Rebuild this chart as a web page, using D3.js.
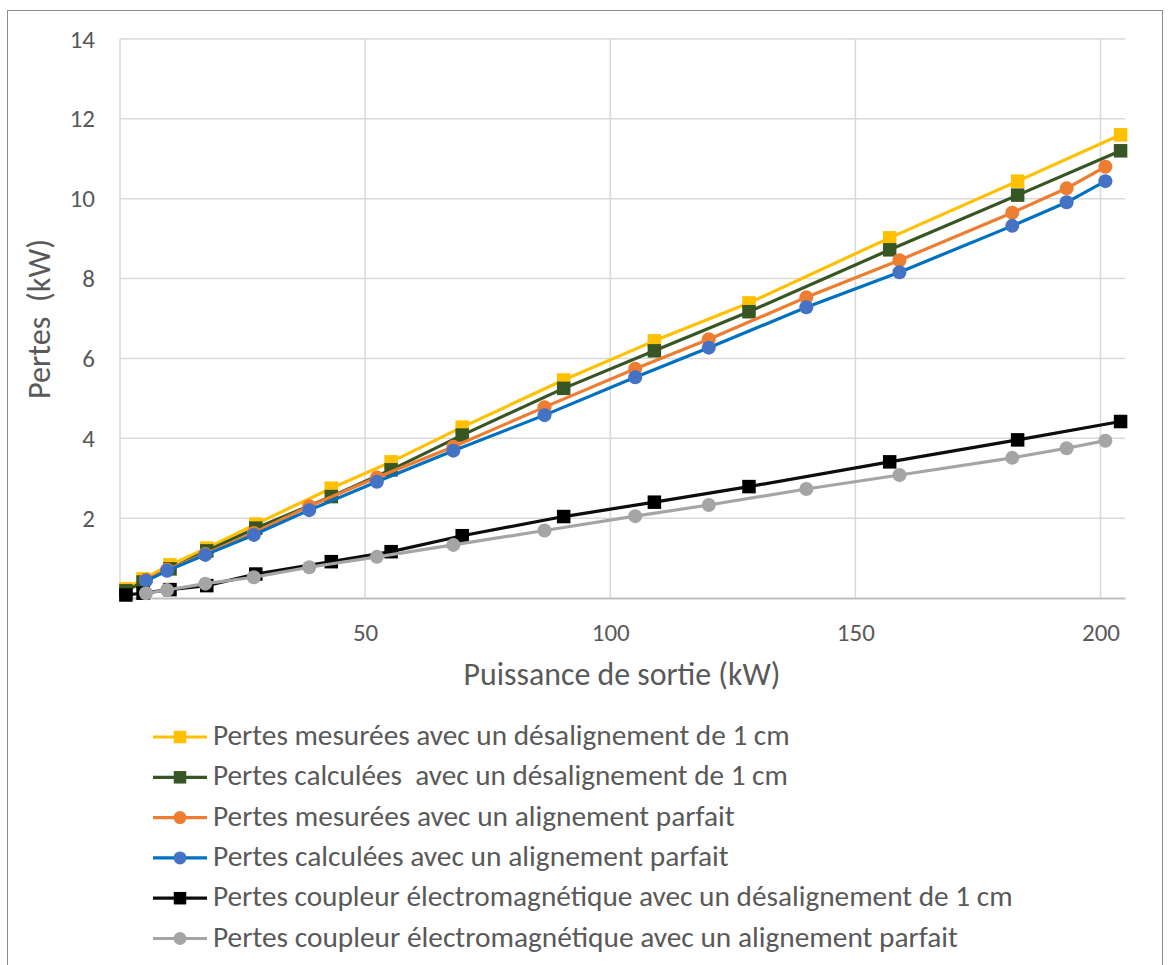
<!DOCTYPE html>
<html>
<head>
<meta charset="utf-8">
<script src="https://cdn.jsdelivr.net/npm/d3@7"></script>
<style>
  html, body { margin: 0; padding: 0; background: #fff; }
  svg { display: block; }
  text { font-family: Carlito, Calibri, Lato, "Open Sans", sans-serif; fill: #595959; white-space: pre; }
</style>
</head>
<body>
<svg id="chart" width="1169" height="965"></svg>
<script>
// ---------------- data ----------------
const squareX = [1.2, 4.7, 10.2, 17.7, 27.7, 43.1, 55.3, 69.8, 90.5, 109.0, 128.3, 157.0, 183.1, 204.1];
const circleX = [5.3, 9.6, 17.4, 27.3, 38.6, 52.4, 68.0, 86.6, 105.1, 120.1, 140.0, 159.0, 182.0, 193.1, 201.0];

const mesureesDesal = [0.23, 0.48, 0.83, 1.25, 1.85, 2.75, 3.41, 4.28, 5.46, 6.44, 7.39, 9.02, 10.44, 11.6];
const calculeesDesal = [0.18, 0.40, 0.73, 1.18, 1.75, 2.54, 3.21, 4.08, 5.25, 6.19, 7.17, 8.72, 10.09, 11.2];
const mesureesAlign = [0.46, 0.71, 1.10, 1.63, 2.30, 3.02, 3.79, 4.78, 5.74, 6.48, 7.53, 8.46, 9.65, 10.26, 10.80];
const calculeesAlign = [0.43, 0.68, 1.08, 1.58, 2.20, 2.91, 3.69, 4.58, 5.53, 6.27, 7.28, 8.16, 9.32, 9.91, 10.44];
const coupleurDesal = [0.075, 0.12, 0.21, 0.31, 0.60, 0.91, 1.16, 1.56, 2.04, 2.40, 2.79, 3.41, 3.96, 4.42];
const coupleurAlign = [0.12, 0.20, 0.36, 0.52, 0.77, 1.03, 1.33, 1.69, 2.05, 2.33, 2.73, 3.08, 3.51, 3.75, 3.94];

const seriesNames = [
  "Pertes mesurées avec un désalignement de 1 cm",
  "Pertes calculées  avec un désalignement de 1 cm",
  "Pertes mesurées avec un alignement parfait",
  "Pertes calculées avec un alignement parfait",
  "Pertes coupleur électromagnétique avec un désalignement de 1 cm",
  "Pertes coupleur électromagnétique avec un alignement parfait"
];
const xTicks = [50, 100, 150, 200];
const yTicks = [2, 4, 6, 8, 10, 12, 14];
const xTitle = "Puissance de sortie (kW)";
const yTitle = "Pertes  (kW)";

// ---------------- styles ----------------
const series = [
  { name: seriesNames[0], xs: squareX, ys: mesureesDesal, line: "#FFC000", fill: "#FFC000", shape: "square" },
  { name: seriesNames[1], xs: squareX, ys: calculeesDesal, line: "#375623", fill: "#375623", shape: "square" },
  { name: seriesNames[2], xs: circleX, ys: mesureesAlign, line: "#ED7D31", fill: "#ED7D31", shape: "circle" },
  { name: seriesNames[3], xs: circleX, ys: calculeesAlign, line: "#0070C0", fill: "#4472C4", shape: "circle" },
  { name: seriesNames[4], xs: squareX, ys: coupleurDesal, line: "#0D0D0D", fill: "#000000", shape: "square" },
  { name: seriesNames[5], xs: circleX, ys: coupleurAlign, line: "#A5A5A5", fill: "#A5A5A5", shape: "circle" }
];

const svg = d3.select("#chart");
const plot = { left: 120, right: 1125, top: 39, bottom: 598 };

const x = d3.scaleLinear().domain([0, 205]).range([plot.left, plot.right]);
const y = d3.scaleLinear().domain([0, 14]).range([plot.bottom, plot.top]);

// outer border
svg.append("rect").attr("x", 7.5).attr("y", 10.5).attr("width", 1155).attr("height", 960)
  .attr("fill", "#fff").attr("stroke", "#8c8c8c").attr("stroke-width", 1);

// gridlines
const grid = svg.append("g");
grid.selectAll("line.h").data(yTicks).join("line")
  .attr("x1", plot.left).attr("x2", plot.right)
  .attr("y1", d => y(d)).attr("y2", d => y(d))
  .attr("stroke", "#d9d9d9").attr("stroke-width", 1.5);
grid.selectAll("line.v").data(xTicks).join("line")
  .attr("y1", plot.top).attr("y2", plot.bottom)
  .attr("x1", d => x(d)).attr("x2", d => x(d))
  .attr("stroke", "#d9d9d9").attr("stroke-width", 1.5);
svg.append("line").attr("x1", plot.left).attr("x2", plot.left).attr("y1", plot.top).attr("y2", plot.bottom)
  .attr("stroke", "#d9d9d9").attr("stroke-width", 1.5);

// axes via d3
const yAxis = d3.axisLeft(y).tickValues(yTicks).tickSize(0).tickPadding(25);
const gy = svg.append("g").attr("transform", `translate(${plot.left},0)`).call(yAxis);
gy.select(".domain").remove();
gy.selectAll("text").style("font-size", "25px").attr("fill", "#595959");

const xAxis = d3.axisBottom(x).tickValues(xTicks).tickSize(0).tickPadding(25);
const gx = svg.append("g").attr("transform", `translate(0,${plot.bottom})`).call(xAxis);
gx.select(".domain").attr("stroke", "#bfbfbf").attr("stroke-width", 2);
gx.selectAll("text").style("font-size", "25px").attr("fill", "#595959");

// axis titles
function fitText(sel, target) {
  const fs = parseFloat(sel.style("font-size"));
  const w = sel.node().getComputedTextLength();
  if (w > 0) sel.style("font-size", (fs * target / w) + "px");
}
const xt = svg.append("text").attr("x", 622).attr("y", 685).attr("text-anchor", "middle")
  .style("font-size", "26px").text(xTitle);
fitText(xt, 317);
const yt = svg.append("text").attr("transform", "translate(50,319) rotate(-90)").attr("text-anchor", "middle")
  .style("font-size", "26px").text(yTitle);
fitText(yt, 160);

// series
const line = d3.line().x(d => x(d[0])).y(d => y(d[1]));
function drawMarker(g, shape, fill, size) {
  if (shape === "square") {
    g.append("rect").attr("x", -size / 2).attr("y", -size / 2).attr("width", size).attr("height", size).attr("fill", fill);
  } else {
    g.append("circle").attr("r", size / 2).attr("fill", fill);
  }
}
series.forEach(s => {
  const pts = s.xs.map((xv, i) => [xv, s.ys[i]]);
  const g = svg.append("g");
  g.append("path").datum(pts).attr("d", line).attr("fill", "none")
    .attr("stroke", s.line).attr("stroke-width", 3.2).attr("stroke-linejoin", "round");
  g.selectAll("g.m").data(pts).join("g")
    .attr("transform", d => `translate(${x(d[0])},${y(d[1])})`)
    .each(function () { drawMarker(d3.select(this), s.shape, s.fill, s.shape === "square" ? 13.5 : 14); });
});

// legend
const legendTop = 737, legendStep = 40.3;
const legendWidths = [577, 575, 522, 516, 800, 745];
series.forEach((s, i) => {
  const gy0 = legendTop + i * legendStep;
  const g = svg.append("g").attr("transform", `translate(0,${gy0})`);
  g.append("line").attr("x1", 153).attr("x2", 207).attr("y1", 0).attr("y2", 0)
    .attr("stroke", s.line).attr("stroke-width", 3.2);
  const m = g.append("g").attr("transform", "translate(180,0)");
  drawMarker(m, s.shape, s.fill, s.shape === "square" ? 12.5 : 13);
  const t = g.append("text").attr("x", 213).attr("y", 8).style("font-size", "22px").text(s.name);
  fitText(t, legendWidths[i]);
});
</script>
</body>
</html>
